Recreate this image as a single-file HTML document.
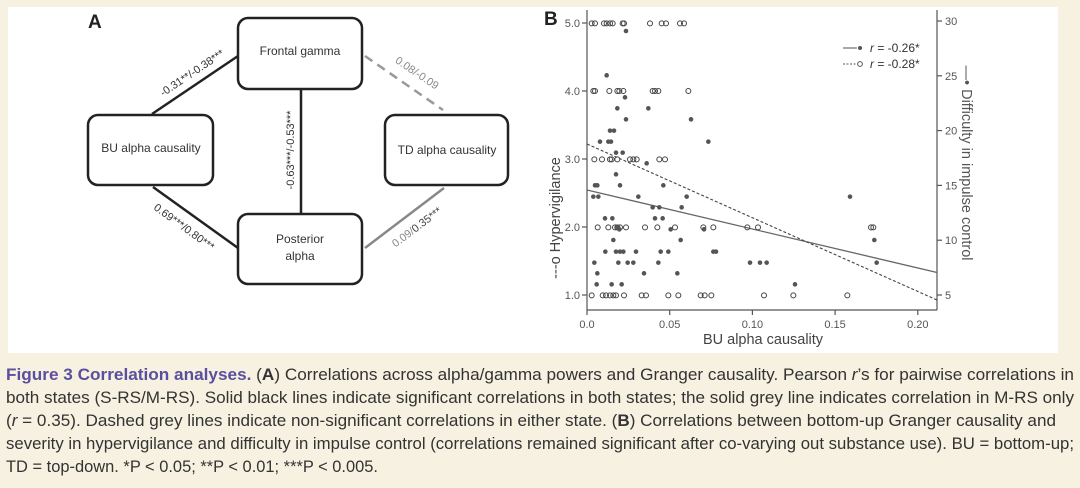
<!DOCTYPE html>
<html><head><meta charset="utf-8">
<style>
html,body{margin:0;padding:0;background:#f6f1e1;}
svg{display:block;font-family:"Liberation Sans",Arial,sans-serif;}
</style></head><body>
<svg id="s" width="1080" height="488" viewBox="0 0 1080 488">
<rect x="0" y="0" width="1080" height="488" fill="#f6f1e1"/>
<rect x="8" y="7" width="1050" height="346" fill="#ffffff"/>
<!-- Panel A -->
<text x="88" y="28" font-size="19" font-weight="bold" fill="#222">A</text>
<g stroke="#222" stroke-width="2.5" fill="none">
<line x1="152" y1="114" x2="238" y2="56"/>
<line x1="301" y1="89" x2="301" y2="214"/>
<line x1="153" y1="187" x2="238" y2="248"/>
</g>
<line x1="365" y1="248" x2="444" y2="188" stroke="#888" stroke-width="2.5"/>
<line x1="365" y1="56" x2="443" y2="110" stroke="#999" stroke-width="2.5" stroke-dasharray="9,6"/>
<g stroke="#222" stroke-width="2.5" fill="#fff">
<rect x="238" y="18" width="124" height="71" rx="10"/>
<rect x="88" y="115" width="125" height="70" rx="10"/>
<rect x="385" y="115" width="123" height="70" rx="10"/>
<rect x="238" y="214" width="124" height="70" rx="10"/>
</g>
<g font-size="12" fill="#333" text-anchor="middle">
<text x="300" y="55">Frontal gamma</text>
<text x="151" y="152">BU alpha causality</text>
<text x="447" y="154">TD alpha causality</text>
<text x="300" y="243">Posterior</text>
<text x="300" y="260">alpha</text>
</g>
<g font-size="11" fill="#333" text-anchor="middle">
<text transform="translate(194,76) rotate(-34)">-0.31**/-0.38***</text>
<text transform="translate(294,150) rotate(-90)">-0.63***/-0.53***</text>
<text transform="translate(182,230) rotate(36)">0.69***/0.80***</text>
<text transform="translate(415,76) rotate(34)" fill="#888">0.08/-0.09</text>
<text transform="translate(419,230) rotate(-37)" fill="#888">0.09/<tspan fill="#444">0.35***</tspan></text>
</g>
<!-- Panel B -->
<text x="544" y="25" font-size="19" font-weight="bold" fill="#222">B</text>
<g stroke="#555" stroke-width="1.2" fill="none">
<line x1="587" y1="10" x2="587" y2="310"/>
<line x1="587" y1="310" x2="937" y2="310"/>
<line x1="937" y1="10" x2="937" y2="310"/>
</g>
<g id="ticks" stroke="#555" stroke-width="1.2"></g>
<g font-size="11" fill="#555" id="lab"></g>
<line x1="587" y1="190" x2="937" y2="272.5" stroke="#666" stroke-width="1.3"/>
<line x1="587" y1="144" x2="937" y2="300" stroke="#444" stroke-width="1.1" stroke-dasharray="3,2"/>
<g id="pts"></g>
<g font-size="12" fill="#333">
<line x1="843" y1="48" x2="857" y2="48" stroke="#555"/><circle cx="860" cy="48" r="2" fill="#555"/>
<text x="870" y="52"><tspan font-style="italic">r</tspan> = -0.26*</text>
<line x1="843" y1="64" x2="857" y2="64" stroke="#555" stroke-dasharray="2,1.5"/><circle cx="860" cy="64" r="2.4" fill="#fff" stroke="#555"/>
<text x="870" y="68"><tspan font-style="italic">r</tspan> = -0.28*</text>
</g>
<text x="763" y="344" font-size="14.5" fill="#444" text-anchor="middle">BU alpha causality</text>
<text transform="translate(560,218) rotate(-90)" font-size="14.5" fill="#444" text-anchor="middle">---o Hypervigilance</text>
<text transform="translate(962,163) rotate(90)" font-size="14.5" fill="#555" text-anchor="middle">—• Difficulty in impulse control</text>
<!-- Caption -->
<g font-family="'Liberation Sans Narrow','Liberation Sans',sans-serif" font-size="17" fill="#333">
<text x="6" y="380" textLength="1068" lengthAdjust="spacingAndGlyphs"><tspan fill="#5b4f9e" font-weight="bold">Figure 3  Correlation analyses.</tspan> (<tspan font-weight="bold">A</tspan>) Correlations across alpha/gamma powers and Granger causality. Pearson <tspan font-style="italic">r</tspan>’s for pairwise correlations in</text>
<text x="6" y="403" textLength="1068" lengthAdjust="spacingAndGlyphs">both states (S-RS/M-RS). Solid black lines indicate significant correlations in both states; the solid grey line indicates correlation in M-RS only</text>
<text x="6" y="426" textLength="1050" lengthAdjust="spacingAndGlyphs">(<tspan font-style="italic">r</tspan> = 0.35). Dashed grey lines indicate non-significant correlations in either state. (<tspan font-weight="bold">B</tspan>) Correlations between bottom-up Granger causality and</text>
<text x="6" y="449" textLength="1068" lengthAdjust="spacingAndGlyphs">severity in hypervigilance and difficulty in impulse control (correlations remained significant after co-varying out substance use). BU = bottom-up;</text>
<text x="6" y="472" textLength="372" lengthAdjust="spacingAndGlyphs">TD = top-down. *P &lt; 0.05; **P &lt; 0.01; ***P &lt; 0.005.</text>
</g>
</svg>
<script>
var NS="http://www.w3.org/2000/svg";
function el(p,t,a,txt){var e=document.createElementNS(NS,t);for(var k in a)e.setAttribute(k,a[k]);if(txt!=null)e.textContent=txt;document.getElementById(p).appendChild(e);}
[1,2,3,4,5].forEach(function(v){var y=295-(v-1)*68;el('ticks','line',{x1:582,y1:y,x2:587,y2:y});el('lab','text',{x:580,y:y+4,'text-anchor':'end'},v.toFixed(1));});
[5,10,15,20,25,30].forEach(function(v){var y=295-(v-5)*(274/25);el('ticks','line',{x1:937,y1:y,x2:942,y2:y});el('lab','text',{x:945,y:y+4},String(v));});
['0.0','0.05','0.10','0.15','0.20'].forEach(function(s,i){var x=587+i*82.7;el('ticks','line',{x1:x,y1:310,x2:x,y2:315});el('lab','text',{x:x,y:328,'text-anchor':'middle'},s);});
var open={70:[155,165,192,200,210,218,248,252,330,365,378,420,432],273:[160,165,208,232,238,250,338,345,355,445],478:[163,186,210,215,232,270,280,290,358,375],682:[173,205,225,232,240,258,315,352,405,490,520,622,654,993,1000],886:[155,188,198,210,220,228,252,305,318,385,415,482,494,514,672,760,922]};
for(var k in open)open[k].forEach(function(zx){el('pts','circle',{cx:540+zx/3,cy:k/3,r:2.5,fill:'none',stroke:'#444','stroke-width':1});});
var fil=[[258,93],[200,226],[255,292],[232,325],[258,358],[325,325],[453,358],[180,425],[205,425],[213,425],[505,425],[210,392],[222,392],[228,458],[248,458],[320,490],[228,523],[370,556],[240,556],[165,556],[172,556],[160,590],[175,590],[295,590],[440,590],[930,590],[338,622],[358,622],[425,622],[195,655],[217,655],[345,655],[368,655],[232,682],[238,688],[392,688],[492,688],[220,720],[422,720],[1003,720],[196,755],[228,755],[240,755],[250,755],[288,755],[362,755],[385,755],[520,755],[528,755],[163,788],[235,788],[263,788],[280,788],[355,788],[630,788],[660,788],[680,788],[1010,788],[172,820],[412,820],[312,820],[170,853],[215,853],[245,853],[765,853]];
fil.forEach(function(p){el('pts','circle',{cx:540+p[0]/3,cy:p[1]/3,r:2.3,fill:'#555'});});
</script>
</body></html>
